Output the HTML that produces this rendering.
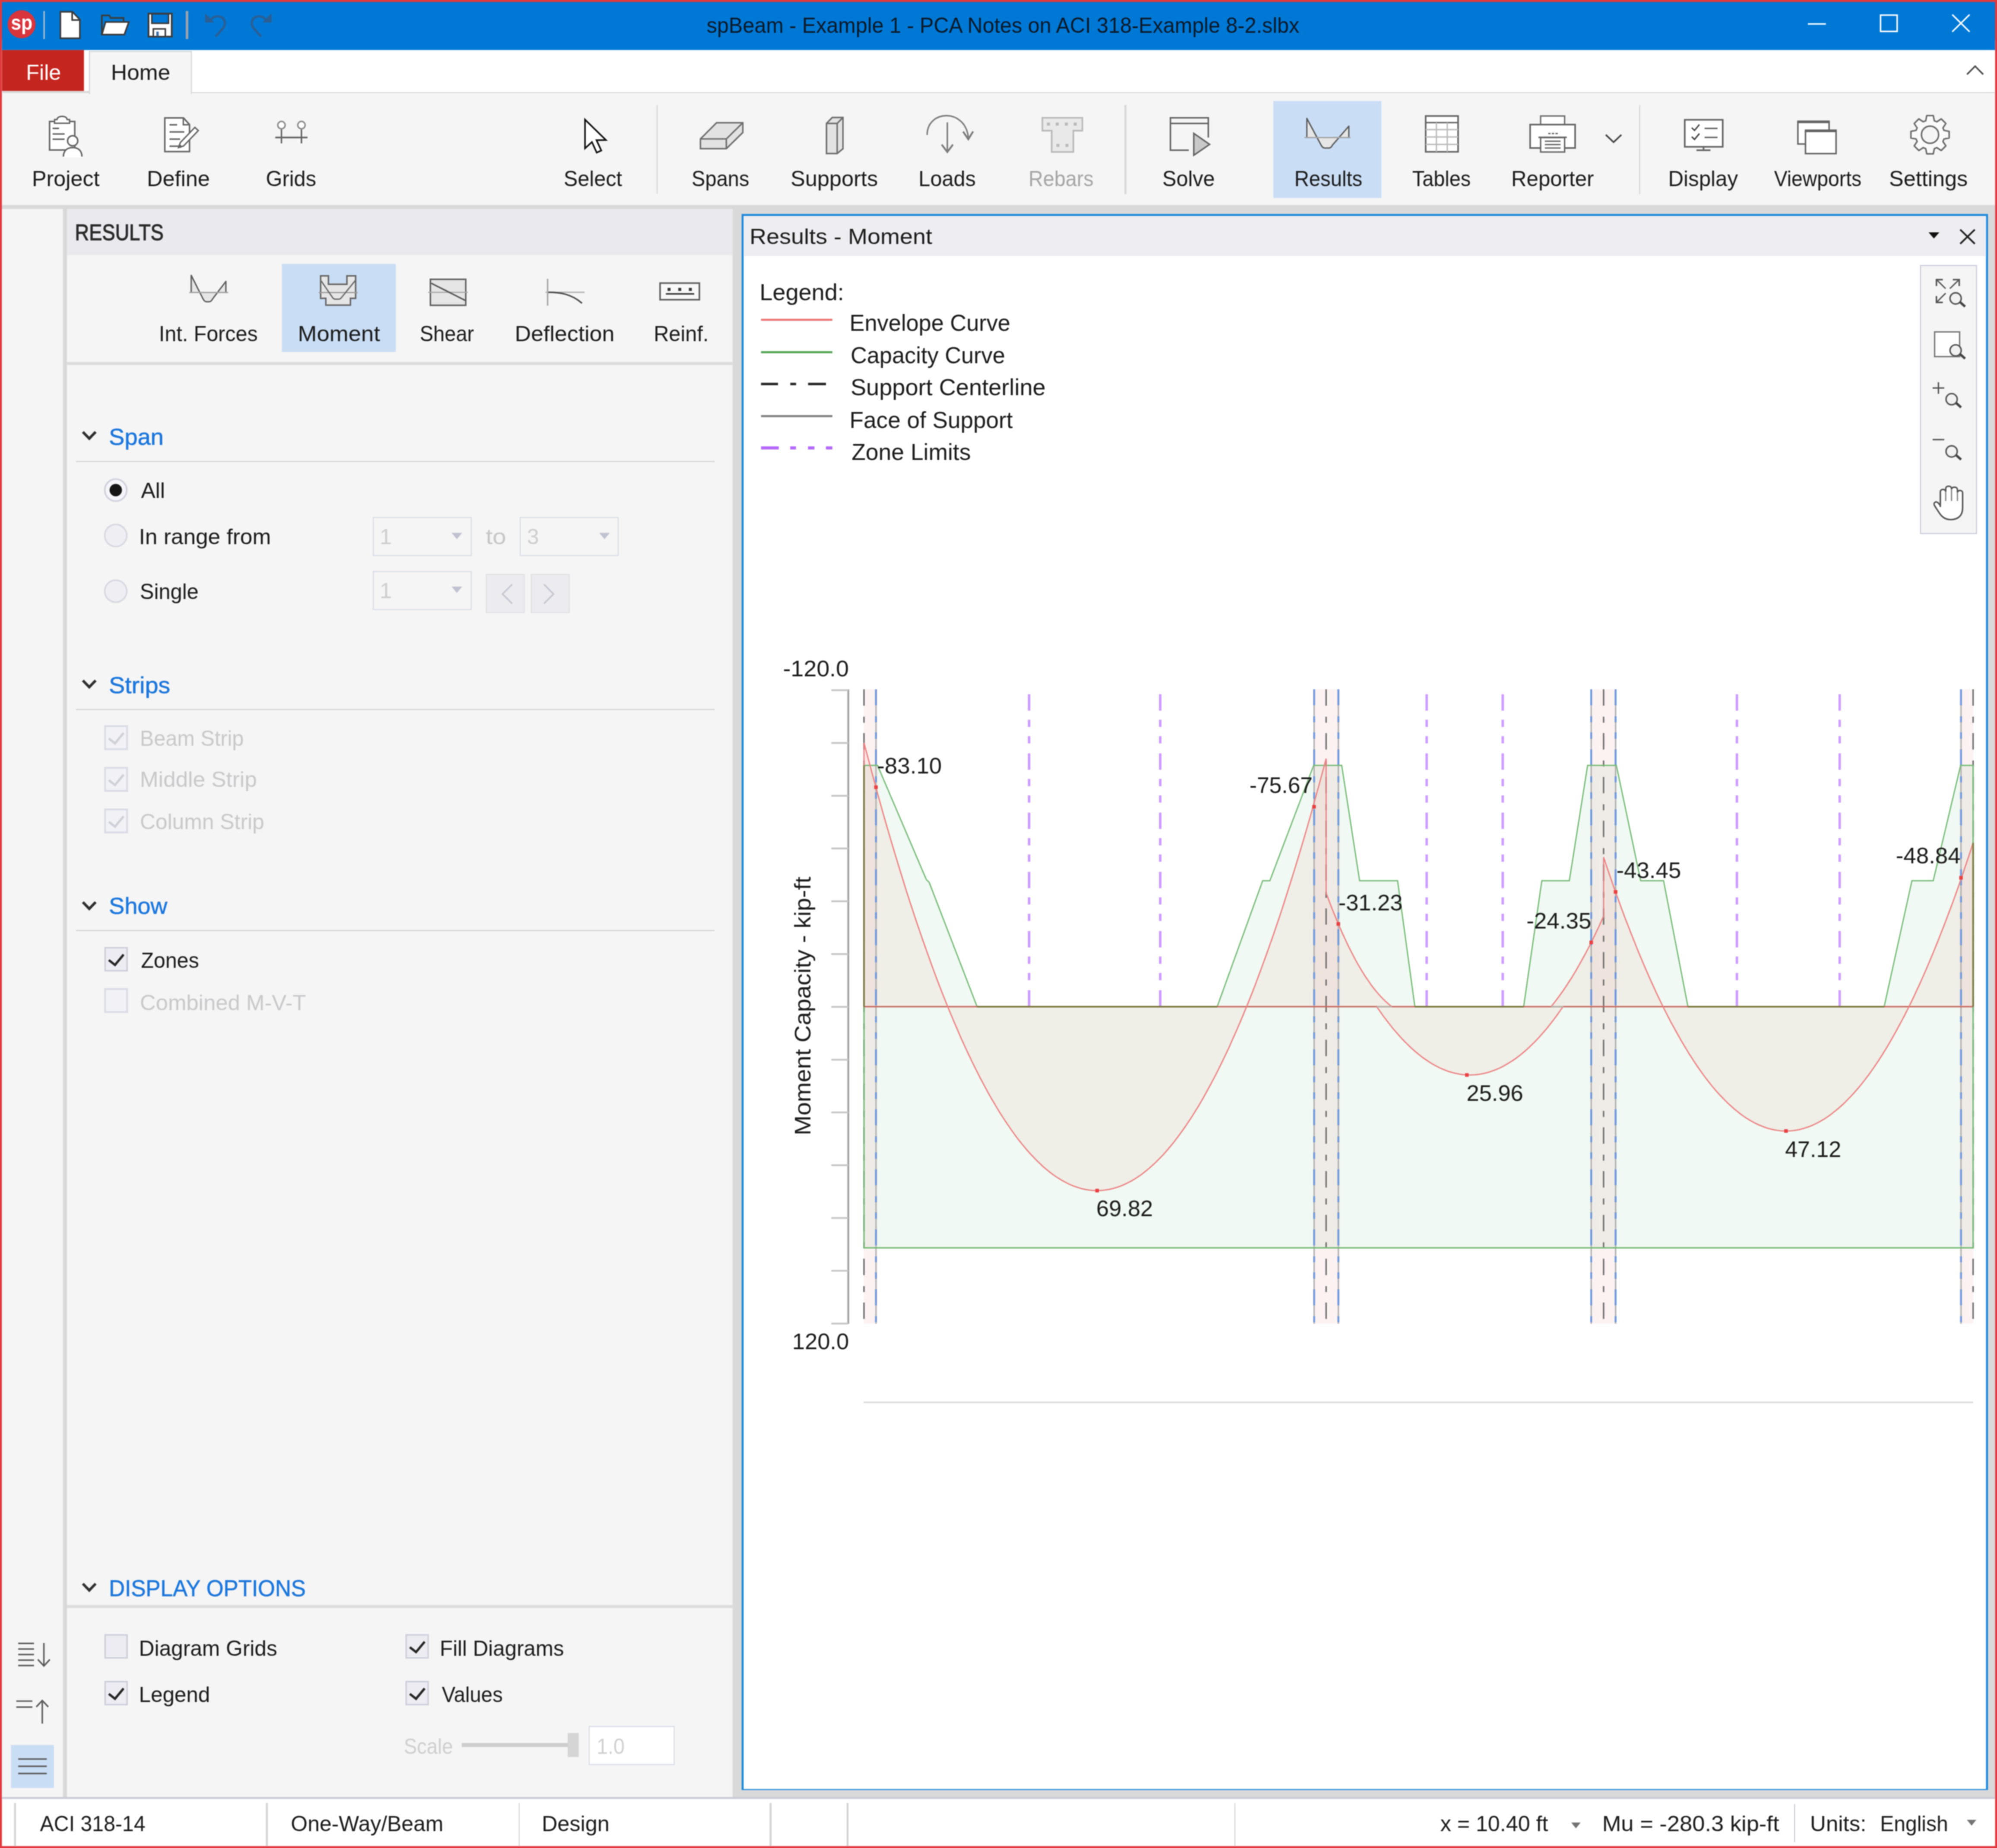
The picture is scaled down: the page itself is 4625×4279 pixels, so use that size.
<!DOCTYPE html>
<html><head><meta charset="utf-8"><title>spBeam - Results - Moment</title>
<style>
html,body{margin:0;padding:0;background:#e03a3f;overflow:hidden;}
body{width:4625px;height:4279px;position:relative;font-family:"Liberation Sans",sans-serif;}
#app{position:absolute;left:0;top:0;width:1998px;height:1848px;transform-origin:0 0;transform:scale(2.31481,2.31548);overflow:hidden;filter:blur(0.4px);}
.r{position:absolute;display:block;}
.t{position:absolute;display:block;white-space:nowrap;line-height:0;height:0;transform-origin:0 0;}
svg text{font-family:"Liberation Sans",sans-serif;}
</style></head><body><div id="app">
<div class="r" style="left:0.00px;top:0.00px;width:1998.00px;height:1848.00px;background:#e03a3f;"></div>
<div class="r" style="left:1.70px;top:40.00px;width:1994.50px;height:1806.20px;background:#f5f5f5;"></div>
<div class="r" style="left:1.70px;top:1.60px;width:1994.50px;height:49.00px;background:#0078d6;"></div>
<div class="r" style="left:1.70px;top:50.10px;width:1994.50px;height:43.40px;background:#ffffff;"></div>
<div class="r" style="left:1.70px;top:50.10px;width:82.70px;height:41.30px;background:#c4261f;"></div>
<div class="r" style="left:1.70px;top:92.00px;width:1994.50px;height:113.10px;background:#f5f5f5;"></div>
<div class="r" style="left:191.50px;top:91.60px;width:1804.70px;height:1.40px;background:#d9d9d9;"></div>
<div class="r" style="left:1.70px;top:91.40px;width:88.30px;height:1.40px;background:#d9d9d9;"></div>
<div class="r" style="left:89.40px;top:50.60px;width:103.00px;height:43.40px;background:#f5f5f5;border:1.10px solid #d6d6d6;box-sizing:border-box;border-bottom:none;"></div>
<div class="r" style="left:1.70px;top:205.10px;width:1994.50px;height:1594.90px;background:#d9d9d9;"></div>
<div class="r" style="left:1.70px;top:208.60px;width:61.50px;height:1589.40px;background:#f5f5f5;"></div>
<div class="r" style="left:66.50px;top:208.60px;width:666.20px;height:1589.40px;background:#f5f5f5;"></div>
<div class="r" style="left:66.50px;top:208.60px;width:666.20px;height:46.90px;background:#e9e9ee;"></div>
<div class="r" style="left:66.50px;top:361.80px;width:666.20px;height:3.60px;background:#dcdcdc;"></div>
<div class="r" style="left:282.40px;top:264.20px;width:113.40px;height:88.20px;background:#c9ddf5;"></div>
<div class="r" style="left:1274.10px;top:100.60px;width:108.20px;height:97.10px;background:#c9ddf5;"></div>
<div class="r" style="left:657.25px;top:104.50px;width:1.10px;height:89.50px;background:#d6d6d6;"></div>
<div class="r" style="left:1125.45px;top:104.50px;width:1.10px;height:89.50px;background:#d6d6d6;"></div>
<div class="r" style="left:1639.95px;top:104.50px;width:1.10px;height:89.50px;background:#d6d6d6;"></div>
<div class="r" style="left:75.70px;top:460.90px;width:639.00px;height:1.20px;background:#d2d2d2;"></div>
<div class="r" style="left:75.70px;top:709.20px;width:639.00px;height:1.20px;background:#d2d2d2;"></div>
<div class="r" style="left:75.70px;top:930.20px;width:639.00px;height:1.20px;background:#d2d2d2;"></div>
<div class="r" style="left:66.50px;top:1605.00px;width:666.20px;height:3.30px;background:#dcdcdc;"></div>
<div class="r" style="left:10.90px;top:1745.40px;width:43.00px;height:42.90px;background:#c9ddf5;"></div>
<div class="r" style="left:1.70px;top:1797.40px;width:1994.50px;height:2.00px;background:#cacad8;"></div>
<div class="r" style="left:1.70px;top:1799.20px;width:1994.50px;height:47.00px;background:#ffffff;"></div>
<div class="r" style="left:14.35px;top:1803.20px;width:1.50px;height:42.80px;background:#d4d4d4;"></div>
<div class="r" style="left:266.15px;top:1803.20px;width:1.50px;height:42.80px;background:#d4d4d4;"></div>
<div class="r" style="left:518.65px;top:1803.20px;width:1.50px;height:42.80px;background:#d4d4d4;"></div>
<div class="r" style="left:770.25px;top:1803.20px;width:1.50px;height:42.80px;background:#d4d4d4;"></div>
<div class="r" style="left:847.45px;top:1803.20px;width:1.50px;height:42.80px;background:#d4d4d4;"></div>
<div class="r" style="left:1234.75px;top:1803.20px;width:1.50px;height:42.80px;background:#d4d4d4;"></div>
<div class="r" style="left:1794.65px;top:1803.60px;width:1.50px;height:38.40px;background:#c8c8d4;"></div>
<div class="r" style="left:741.80px;top:214.30px;width:1247.20px;height:1576.00px;background:#1f87d8;"></div>
<div class="r" style="left:743.50px;top:216.00px;width:1243.80px;height:1572.60px;background:#ffffff;"></div>
<div class="r" style="left:743.50px;top:216.00px;width:1243.80px;height:39.50px;background:#eeeef2;"></div>
<div class="r" style="left:1920.60px;top:264.80px;width:57.40px;height:269.10px;background:#f5f5f5;border:1.30px solid #c9c9dc;box-sizing:border-box;"></div>
<div class="r" style="left:372.60px;top:516.80px;width:99.10px;height:39.40px;background:#f5f5f5;border:1.80px solid #d8dbe8;box-sizing:border-box;"></div>
<div class="r" style="left:520.20px;top:516.80px;width:99.10px;height:39.40px;background:#f5f5f5;border:1.80px solid #d8dbe8;box-sizing:border-box;"></div>
<div class="r" style="left:372.60px;top:570.50px;width:99.10px;height:39.40px;background:#f5f5f5;border:1.80px solid #d8dbe8;box-sizing:border-box;"></div>
<div class="r" style="left:486.10px;top:574.10px;width:39.20px;height:39.20px;background:#ececf0;border:1.70px solid #e0e0e2;box-sizing:border-box;"></div>
<div class="r" style="left:531.10px;top:574.10px;width:39.30px;height:39.20px;background:#ececf0;border:1.70px solid #e0e0e2;box-sizing:border-box;"></div>
<div class="r" style="left:588.70px;top:1725.90px;width:86.10px;height:39.10px;background:#ffffff;border:1.90px solid #d7d9e6;box-sizing:border-box;"></div>
<div class="r" style="left:461.60px;top:1743.30px;width:115.40px;height:3.70px;background:#cdcdcd;"></div>
<div class="r" style="left:567.90px;top:1733.00px;width:11.20px;height:24.40px;background:#d5d5d5;"></div>
<svg class="r" style="left:0;top:0" width="1998" height="1848" viewBox="0 0 1998 1848">
<polygon points="864.4,765.4 878.0,765.4 926.9,879.8 929.6,882.2 977.6,1006.7 1217.8,1006.7 1263.3,880.7 1270.5,880.7 1314.3,765.4 1342.4,765.4 1360.3,880.7 1398.3,880.7 1415.6,1006.7 1524.4,1006.7 1542.6,880.7 1570.1,880.7 1588.4,765.4 1617.2,765.4 1641.5,880.7 1664.4,880.7 1688.8,1006.7 1885.1,1006.7 1912.9,880.7 1934.2,880.7 1961.6,765.4 1974.1,765.4 1974.1,1247.8 864.4,1247.8" fill="#ecf8f0" fill-opacity="0.8" stroke="none"/>
<polygon points="864.4,1006.7 864.4,742.7 868.3,757.4 872.2,772.0 876.1,786.3 879.9,800.3 883.8,814.2 887.7,827.7 891.6,841.0 895.5,854.1 899.4,866.9 903.3,879.4 907.1,891.8 911.0,903.8 914.9,915.6 918.8,927.2 922.7,938.5 926.6,949.6 930.5,960.4 934.3,971.0 938.2,981.3 942.1,991.4 946.0,1001.2 949.9,1010.8 953.8,1020.1 957.7,1029.2 961.5,1038.0 965.4,1046.6 969.3,1054.9 973.2,1063.0 977.1,1070.9 981.0,1078.5 984.9,1085.8 988.7,1092.9 992.6,1099.7 996.5,1106.3 1000.4,1112.7 1004.3,1118.8 1008.2,1124.6 1012.1,1130.2 1015.9,1135.6 1019.8,1140.7 1023.7,1145.5 1027.6,1150.2 1031.5,1154.5 1035.4,1158.6 1039.3,1162.5 1043.1,1166.1 1047.0,1169.5 1050.9,1172.6 1054.8,1175.5 1058.7,1178.1 1062.6,1180.4 1066.5,1182.6 1070.3,1184.4 1074.2,1186.1 1078.1,1187.4 1082.0,1188.6 1085.9,1189.5 1089.8,1190.1 1093.7,1190.5 1097.5,1190.6 1101.4,1190.5 1105.3,1190.1 1109.2,1189.5 1113.1,1188.7 1117.0,1187.5 1120.9,1186.2 1124.7,1184.6 1128.6,1182.7 1132.5,1180.6 1136.4,1178.3 1140.3,1175.7 1144.2,1172.8 1148.1,1169.7 1151.9,1166.4 1155.8,1162.8 1159.7,1158.9 1163.6,1154.9 1167.5,1150.5 1171.4,1145.9 1175.3,1141.1 1179.1,1136.0 1183.0,1130.7 1186.9,1125.1 1190.8,1119.3 1194.7,1113.2 1198.6,1106.9 1202.5,1100.3 1206.3,1093.5 1210.2,1086.4 1214.1,1079.1 1218.0,1071.5 1221.9,1063.7 1225.8,1055.6 1229.7,1047.3 1233.5,1038.7 1237.4,1029.9 1241.3,1020.9 1245.2,1011.5 1249.1,1002.0 1253.0,992.2 1256.9,982.1 1260.7,971.8 1264.6,961.3 1268.5,950.5 1272.4,939.4 1276.3,928.1 1280.2,916.6 1284.1,904.8 1287.9,892.7 1291.8,880.4 1295.7,867.9 1299.6,855.1 1303.5,842.1 1307.4,828.8 1311.3,815.3 1315.1,801.5 1319.0,787.4 1322.9,773.2 1326.8,758.6 1326.8,1006.7" fill="#ee9a8a" fill-opacity="0.115"/>
<polygon points="1326.8,1006.7 1326.8,893.0 1329.1,899.1 1331.3,905.0 1333.6,910.8 1335.9,916.4 1338.2,921.9 1340.4,927.2 1342.7,932.4 1345.0,937.4 1347.3,942.3 1349.5,947.0 1351.8,951.5 1354.1,955.9 1356.3,960.1 1358.6,964.2 1360.9,968.1 1363.2,971.9 1365.4,975.5 1367.7,978.9 1370.0,982.2 1372.2,985.4 1374.5,988.4 1376.8,991.2 1379.1,993.9 1381.3,996.4 1383.6,998.8 1385.9,1001.0 1388.2,1003.1 1390.4,1005.0 1392.7,1006.7" fill="#ee9a8a" fill-opacity="0.115"/>
<polygon points="1377.2,1006.4 1380.4,1010.9 1383.5,1015.4 1386.7,1019.6 1389.9,1023.7 1393.0,1027.7 1396.2,1031.5 1399.4,1035.1 1402.5,1038.6 1405.7,1041.9 1408.9,1045.0 1412.0,1048.0 1415.2,1050.9 1418.4,1053.5 1421.5,1056.1 1424.7,1058.4 1427.9,1060.6 1431.1,1062.7 1434.2,1064.6 1437.4,1066.3 1440.6,1067.9 1443.7,1069.3 1446.9,1070.6 1450.1,1071.7 1453.2,1072.6 1456.4,1073.4 1459.6,1074.0 1462.7,1074.5 1465.9,1074.8 1469.1,1075.0 1472.2,1075.0 1475.4,1074.8 1478.6,1074.5 1481.7,1074.0 1484.9,1073.4 1488.1,1072.6 1491.2,1071.6 1494.4,1070.5 1497.6,1069.3 1500.7,1067.9 1503.9,1066.3 1507.1,1064.5 1510.2,1062.6 1513.4,1060.6 1516.6,1058.4 1519.8,1056.0 1522.9,1053.5 1526.1,1050.8 1529.3,1047.9 1532.4,1044.9 1535.6,1041.8 1538.8,1038.5 1541.9,1035.0 1545.1,1031.3 1548.3,1027.6 1551.4,1023.6 1554.6,1019.5 1557.8,1015.2 1560.9,1010.8 1564.1,1006.2" fill="#ee9a8a" fill-opacity="0.115"/>
<polygon points="1551.8,1006.7 1553.6,1004.5 1555.4,1002.2 1557.2,999.8 1559.1,997.4 1560.9,994.9 1562.7,992.4 1564.5,989.8 1566.3,987.1 1568.1,984.4 1569.9,981.6 1571.8,978.7 1573.6,975.8 1575.4,972.8 1577.2,969.8 1579.0,966.6 1580.8,963.4 1582.6,960.2 1584.4,956.9 1586.3,953.5 1588.1,950.1 1589.9,946.6 1591.7,943.0 1593.5,939.4 1595.3,935.7 1597.1,931.9 1599.0,928.1 1600.8,924.2 1602.6,920.2 1604.4,916.2 1604.4,1006.7" fill="#ee9a8a" fill-opacity="0.115"/>
<polygon points="1604.4,1006.7 1604.4,857.2 1607.5,866.5 1610.6,875.5 1613.7,884.5 1616.8,893.2 1619.9,901.8 1623.0,910.3 1626.1,918.6 1629.3,926.7 1632.4,934.7 1635.5,942.5 1638.6,950.2 1641.7,957.7 1644.8,965.0 1647.9,972.2 1651.0,979.2 1654.1,986.0 1657.2,992.8 1660.3,999.3 1663.4,1005.7 1666.5,1011.9 1669.6,1018.0 1672.7,1023.9 1675.9,1029.6 1679.0,1035.2 1682.1,1040.7 1685.2,1045.9 1688.3,1051.1 1691.4,1056.0 1694.5,1060.8 1697.6,1065.5 1700.7,1069.9 1703.8,1074.3 1706.9,1078.4 1710.0,1082.4 1713.1,1086.3 1716.2,1090.0 1719.3,1093.5 1722.5,1096.9 1725.6,1100.1 1728.7,1103.1 1731.8,1106.0 1734.9,1108.8 1738.0,1111.3 1741.1,1113.8 1744.2,1116.0 1747.3,1118.1 1750.4,1120.1 1753.5,1121.8 1756.6,1123.5 1759.7,1124.9 1762.8,1126.2 1765.9,1127.4 1769.1,1128.4 1772.2,1129.2 1775.3,1129.9 1778.4,1130.4 1781.5,1130.8 1784.6,1131.0 1787.7,1131.0 1790.8,1130.9 1793.9,1130.6 1797.0,1130.2 1800.1,1129.6 1803.2,1128.8 1806.3,1127.9 1809.4,1126.8 1812.6,1125.6 1815.7,1124.2 1818.8,1122.7 1821.9,1120.9 1825.0,1119.1 1828.1,1117.1 1831.2,1114.9 1834.3,1112.5 1837.4,1110.0 1840.5,1107.4 1843.6,1104.6 1846.7,1101.6 1849.8,1098.4 1852.9,1095.2 1856.0,1091.7 1859.2,1088.1 1862.3,1084.3 1865.4,1080.4 1868.5,1076.3 1871.6,1072.1 1874.7,1067.7 1877.8,1063.1 1880.9,1058.4 1884.0,1053.5 1887.1,1048.5 1890.2,1043.3 1893.3,1037.9 1896.4,1032.4 1899.5,1026.7 1902.6,1020.9 1905.8,1014.9 1908.9,1008.7 1912.0,1002.4 1915.1,996.0 1918.2,989.3 1921.3,982.6 1924.4,975.6 1927.5,968.5 1930.6,961.2 1933.7,953.8 1936.8,946.2 1939.9,938.5 1943.0,930.6 1946.1,922.6 1949.2,914.4 1952.4,906.0 1955.5,897.5 1958.6,888.8 1961.7,879.9 1964.8,870.9 1967.9,861.7 1971.0,852.4 1974.1,842.9 1974.1,1006.7" fill="#ee9a8a" fill-opacity="0.115"/>
<rect x="864.0" y="689.3" width="14.0" height="634.5" fill="#e8a0a0" fill-opacity="0.14"/>
<rect x="1313.8" y="689.3" width="26.8" height="634.5" fill="#e8a0a0" fill-opacity="0.14"/>
<rect x="1591.0" y="689.3" width="26.6" height="634.5" fill="#e8a0a0" fill-opacity="0.14"/>
<rect x="1960.6" y="689.3" width="14.0" height="634.5" fill="#e8a0a0" fill-opacity="0.14"/>
<line x1="848.7" y1="689.3" x2="848.7" y2="1323.8" stroke="#a4a4a4" stroke-width="1.9"/>
<line x1="831.7" y1="690.2" x2="848.7" y2="690.2" stroke="#c6c6c6" stroke-width="1.8"/>
<line x1="831.7" y1="743.0" x2="848.7" y2="743.0" stroke="#c6c6c6" stroke-width="1.8"/>
<line x1="831.7" y1="795.8" x2="848.7" y2="795.8" stroke="#c6c6c6" stroke-width="1.8"/>
<line x1="831.7" y1="848.5" x2="848.7" y2="848.5" stroke="#c6c6c6" stroke-width="1.8"/>
<line x1="831.7" y1="901.3" x2="848.7" y2="901.3" stroke="#c6c6c6" stroke-width="1.8"/>
<line x1="831.7" y1="954.1" x2="848.7" y2="954.1" stroke="#c6c6c6" stroke-width="1.8"/>
<line x1="831.7" y1="1006.9" x2="848.7" y2="1006.9" stroke="#c6c6c6" stroke-width="1.8"/>
<line x1="831.7" y1="1059.7" x2="848.7" y2="1059.7" stroke="#c6c6c6" stroke-width="1.8"/>
<line x1="831.7" y1="1112.4" x2="848.7" y2="1112.4" stroke="#c6c6c6" stroke-width="1.8"/>
<line x1="831.7" y1="1165.2" x2="848.7" y2="1165.2" stroke="#c6c6c6" stroke-width="1.8"/>
<line x1="831.7" y1="1218.0" x2="848.7" y2="1218.0" stroke="#c6c6c6" stroke-width="1.8"/>
<line x1="831.7" y1="1270.8" x2="848.7" y2="1270.8" stroke="#c6c6c6" stroke-width="1.8"/>
<line x1="831.7" y1="1323.6" x2="848.7" y2="1323.6" stroke="#c6c6c6" stroke-width="1.8"/>
<line x1="864.0" y1="1402.4" x2="1974.1" y2="1402.4" stroke="#d9d9d9" stroke-width="1.4"/>
<line x1="1029.6" y1="694.2" x2="1029.6" y2="1006.7" stroke="#cc9cff" stroke-width="2.5" stroke-dasharray="16.4 9.1 7.3 9.1 7.3 10"/>
<line x1="1160.8" y1="694.2" x2="1160.8" y2="1006.7" stroke="#cc9cff" stroke-width="2.5" stroke-dasharray="16.4 9.1 7.3 9.1 7.3 10"/>
<line x1="1427.4" y1="694.2" x2="1427.4" y2="1006.7" stroke="#cc9cff" stroke-width="2.5" stroke-dasharray="16.4 9.1 7.3 9.1 7.3 10"/>
<line x1="1503.5" y1="694.2" x2="1503.5" y2="1006.7" stroke="#cc9cff" stroke-width="2.5" stroke-dasharray="16.4 9.1 7.3 9.1 7.3 10"/>
<line x1="1737.8" y1="694.2" x2="1737.8" y2="1006.7" stroke="#cc9cff" stroke-width="2.5" stroke-dasharray="16.4 9.1 7.3 9.1 7.3 10"/>
<line x1="1840.6" y1="694.2" x2="1840.6" y2="1006.7" stroke="#cc9cff" stroke-width="2.5" stroke-dasharray="16.4 9.1 7.3 9.1 7.3 10"/>
<line x1="876.4" y1="689.3" x2="876.4" y2="1323.8" stroke="#b2b2b2" stroke-width="1.4"/>
<line x1="876.4" y1="689.3" x2="876.4" y2="1323.8" stroke="#6f98dc" stroke-width="1.9" stroke-dasharray="16 11 6 10 6.5 10.5"/>
<line x1="1314.8" y1="689.3" x2="1314.8" y2="1323.8" stroke="#b2b2b2" stroke-width="1.4"/>
<line x1="1314.8" y1="689.3" x2="1314.8" y2="1323.8" stroke="#6f98dc" stroke-width="1.9" stroke-dasharray="16 11 6 10 6.5 10.5"/>
<line x1="1339.0" y1="689.3" x2="1339.0" y2="1323.8" stroke="#b2b2b2" stroke-width="1.4"/>
<line x1="1339.0" y1="689.3" x2="1339.0" y2="1323.8" stroke="#6f98dc" stroke-width="1.9" stroke-dasharray="16 11 6 10 6.5 10.5"/>
<line x1="1592.0" y1="689.3" x2="1592.0" y2="1323.8" stroke="#b2b2b2" stroke-width="1.4"/>
<line x1="1592.0" y1="689.3" x2="1592.0" y2="1323.8" stroke="#6f98dc" stroke-width="1.9" stroke-dasharray="16 11 6 10 6.5 10.5"/>
<line x1="1616.4" y1="689.3" x2="1616.4" y2="1323.8" stroke="#b2b2b2" stroke-width="1.4"/>
<line x1="1616.4" y1="689.3" x2="1616.4" y2="1323.8" stroke="#6f98dc" stroke-width="1.9" stroke-dasharray="16 11 6 10 6.5 10.5"/>
<line x1="1962.0" y1="689.3" x2="1962.0" y2="1323.8" stroke="#b2b2b2" stroke-width="1.4"/>
<line x1="1962.0" y1="689.3" x2="1962.0" y2="1323.8" stroke="#6f98dc" stroke-width="1.9" stroke-dasharray="16 11 6 10 6.5 10.5"/>
<line x1="864.4" y1="689.3" x2="864.4" y2="1323.8" stroke="#707070" stroke-width="1.5" stroke-dasharray="16.4 11 6 10.4"/>
<line x1="1326.8" y1="689.3" x2="1326.8" y2="1323.8" stroke="#707070" stroke-width="1.5" stroke-dasharray="16.4 11 6 10.4"/>
<line x1="1604.4" y1="689.3" x2="1604.4" y2="1323.8" stroke="#707070" stroke-width="1.5" stroke-dasharray="16.4 11 6 10.4"/>
<line x1="1974.1" y1="689.3" x2="1974.1" y2="1323.8" stroke="#707070" stroke-width="1.5" stroke-dasharray="16.4 11 6 10.4"/>
<polyline points="864.4,765.4 878.0,765.4 926.9,879.8 929.6,882.2 977.6,1006.7 1217.8,1006.7 1263.3,880.7 1270.5,880.7 1314.3,765.4 1342.4,765.4 1360.3,880.7 1398.3,880.7 1415.6,1006.7 1524.4,1006.7 1542.6,880.7 1570.1,880.7 1588.4,765.4 1617.2,765.4 1641.5,880.7 1664.4,880.7 1688.8,1006.7 1885.1,1006.7 1912.9,880.7 1934.2,880.7 1961.6,765.4 1974.1,765.4" fill="none" stroke="#78bb78" stroke-width="1.25"/>
<polyline points="864.4,765.4 864.4,1247.8 1974.1,1247.8 1974.1,765.4" fill="none" stroke="#78bb78" stroke-width="1.4"/>
<line x1="864.4" y1="1006.7" x2="1974.1" y2="1006.7" stroke="#c86a60" stroke-width="1.4"/>
<polyline points="864.4,1006.7 864.4,742.7 868.3,757.4 872.2,772.0 876.1,786.3 879.9,800.3 883.8,814.2 887.7,827.7 891.6,841.0 895.5,854.1 899.4,866.9 903.3,879.4 907.1,891.8 911.0,903.8 914.9,915.6 918.8,927.2 922.7,938.5 926.6,949.6 930.5,960.4 934.3,971.0 938.2,981.3 942.1,991.4 946.0,1001.2 949.9,1010.8 953.8,1020.1 957.7,1029.2 961.5,1038.0 965.4,1046.6 969.3,1054.9 973.2,1063.0 977.1,1070.9 981.0,1078.5 984.9,1085.8 988.7,1092.9 992.6,1099.7 996.5,1106.3 1000.4,1112.7 1004.3,1118.8 1008.2,1124.6 1012.1,1130.2 1015.9,1135.6 1019.8,1140.7 1023.7,1145.5 1027.6,1150.2 1031.5,1154.5 1035.4,1158.6 1039.3,1162.5 1043.1,1166.1 1047.0,1169.5 1050.9,1172.6 1054.8,1175.5 1058.7,1178.1 1062.6,1180.4 1066.5,1182.6 1070.3,1184.4 1074.2,1186.1 1078.1,1187.4 1082.0,1188.6 1085.9,1189.5 1089.8,1190.1 1093.7,1190.5 1097.5,1190.6 1101.4,1190.5 1105.3,1190.1 1109.2,1189.5 1113.1,1188.7 1117.0,1187.5 1120.9,1186.2 1124.7,1184.6 1128.6,1182.7 1132.5,1180.6 1136.4,1178.3 1140.3,1175.7 1144.2,1172.8 1148.1,1169.7 1151.9,1166.4 1155.8,1162.8 1159.7,1158.9 1163.6,1154.9 1167.5,1150.5 1171.4,1145.9 1175.3,1141.1 1179.1,1136.0 1183.0,1130.7 1186.9,1125.1 1190.8,1119.3 1194.7,1113.2 1198.6,1106.9 1202.5,1100.3 1206.3,1093.5 1210.2,1086.4 1214.1,1079.1 1218.0,1071.5 1221.9,1063.7 1225.8,1055.6 1229.7,1047.3 1233.5,1038.7 1237.4,1029.9 1241.3,1020.9 1245.2,1011.5 1249.1,1002.0 1253.0,992.2 1256.9,982.1 1260.7,971.8 1264.6,961.3 1268.5,950.5 1272.4,939.4 1276.3,928.1 1280.2,916.6 1284.1,904.8 1287.9,892.7 1291.8,880.4 1295.7,867.9 1299.6,855.1 1303.5,842.1 1307.4,828.8 1311.3,815.3 1315.1,801.5 1319.0,787.4 1322.9,773.2 1326.8,758.6 1326.8,893.0 1329.1,899.1 1331.3,905.0 1333.6,910.8 1335.9,916.4 1338.2,921.9 1340.4,927.2 1342.7,932.4 1345.0,937.4 1347.3,942.3 1349.5,947.0 1351.8,951.5 1354.1,955.9 1356.3,960.1 1358.6,964.2 1360.9,968.1 1363.2,971.9 1365.4,975.5 1367.7,978.9 1370.0,982.2 1372.2,985.4 1374.5,988.4 1376.8,991.2 1379.1,993.9 1381.3,996.4 1383.6,998.8 1385.9,1001.0 1388.2,1003.1 1390.4,1005.0 1392.7,1006.7" fill="none" stroke="#ec8282" stroke-width="1.25"/>
<polyline points="1377.2,1006.4 1380.4,1010.9 1383.5,1015.4 1386.7,1019.6 1389.9,1023.7 1393.0,1027.7 1396.2,1031.5 1399.4,1035.1 1402.5,1038.6 1405.7,1041.9 1408.9,1045.0 1412.0,1048.0 1415.2,1050.9 1418.4,1053.5 1421.5,1056.1 1424.7,1058.4 1427.9,1060.6 1431.1,1062.7 1434.2,1064.6 1437.4,1066.3 1440.6,1067.9 1443.7,1069.3 1446.9,1070.6 1450.1,1071.7 1453.2,1072.6 1456.4,1073.4 1459.6,1074.0 1462.7,1074.5 1465.9,1074.8 1469.1,1075.0 1472.2,1075.0 1475.4,1074.8 1478.6,1074.5 1481.7,1074.0 1484.9,1073.4 1488.1,1072.6 1491.2,1071.6 1494.4,1070.5 1497.6,1069.3 1500.7,1067.9 1503.9,1066.3 1507.1,1064.5 1510.2,1062.6 1513.4,1060.6 1516.6,1058.4 1519.8,1056.0 1522.9,1053.5 1526.1,1050.8 1529.3,1047.9 1532.4,1044.9 1535.6,1041.8 1538.8,1038.5 1541.9,1035.0 1545.1,1031.3 1548.3,1027.6 1551.4,1023.6 1554.6,1019.5 1557.8,1015.2 1560.9,1010.8 1564.1,1006.2" fill="none" stroke="#ec8282" stroke-width="1.25"/>
<polyline points="1551.8,1006.7 1553.6,1004.5 1555.4,1002.2 1557.2,999.8 1559.1,997.4 1560.9,994.9 1562.7,992.4 1564.5,989.8 1566.3,987.1 1568.1,984.4 1569.9,981.6 1571.8,978.7 1573.6,975.8 1575.4,972.8 1577.2,969.8 1579.0,966.6 1580.8,963.4 1582.6,960.2 1584.4,956.9 1586.3,953.5 1588.1,950.1 1589.9,946.6 1591.7,943.0 1593.5,939.4 1595.3,935.7 1597.1,931.9 1599.0,928.1 1600.8,924.2 1602.6,920.2 1604.4,916.2 1604.4,857.2 1604.4,857.2 1607.5,866.5 1610.6,875.5 1613.7,884.5 1616.8,893.2 1619.9,901.8 1623.0,910.3 1626.1,918.6 1629.3,926.7 1632.4,934.7 1635.5,942.5 1638.6,950.2 1641.7,957.7 1644.8,965.0 1647.9,972.2 1651.0,979.2 1654.1,986.0 1657.2,992.8 1660.3,999.3 1663.4,1005.7 1666.5,1011.9 1669.6,1018.0 1672.7,1023.9 1675.9,1029.6 1679.0,1035.2 1682.1,1040.7 1685.2,1045.9 1688.3,1051.1 1691.4,1056.0 1694.5,1060.8 1697.6,1065.5 1700.7,1069.9 1703.8,1074.3 1706.9,1078.4 1710.0,1082.4 1713.1,1086.3 1716.2,1090.0 1719.3,1093.5 1722.5,1096.9 1725.6,1100.1 1728.7,1103.1 1731.8,1106.0 1734.9,1108.8 1738.0,1111.3 1741.1,1113.8 1744.2,1116.0 1747.3,1118.1 1750.4,1120.1 1753.5,1121.8 1756.6,1123.5 1759.7,1124.9 1762.8,1126.2 1765.9,1127.4 1769.1,1128.4 1772.2,1129.2 1775.3,1129.9 1778.4,1130.4 1781.5,1130.8 1784.6,1131.0 1787.7,1131.0 1790.8,1130.9 1793.9,1130.6 1797.0,1130.2 1800.1,1129.6 1803.2,1128.8 1806.3,1127.9 1809.4,1126.8 1812.6,1125.6 1815.7,1124.2 1818.8,1122.7 1821.9,1120.9 1825.0,1119.1 1828.1,1117.1 1831.2,1114.9 1834.3,1112.5 1837.4,1110.0 1840.5,1107.4 1843.6,1104.6 1846.7,1101.6 1849.8,1098.4 1852.9,1095.2 1856.0,1091.7 1859.2,1088.1 1862.3,1084.3 1865.4,1080.4 1868.5,1076.3 1871.6,1072.1 1874.7,1067.7 1877.8,1063.1 1880.9,1058.4 1884.0,1053.5 1887.1,1048.5 1890.2,1043.3 1893.3,1037.9 1896.4,1032.4 1899.5,1026.7 1902.6,1020.9 1905.8,1014.9 1908.9,1008.7 1912.0,1002.4 1915.1,996.0 1918.2,989.3 1921.3,982.6 1924.4,975.6 1927.5,968.5 1930.6,961.2 1933.7,953.8 1936.8,946.2 1939.9,938.5 1943.0,930.6 1946.1,922.6 1949.2,914.4 1952.4,906.0 1955.5,897.5 1958.6,888.8 1961.7,879.9 1964.8,870.9 1967.9,861.7 1971.0,852.4 1974.1,842.9 1974.1,1006.7" fill="none" stroke="#ec8282" stroke-width="1.25"/>
<line x1="1377.6" y1="1006.7" x2="1392.4" y2="1006.7" stroke="#b9b8ae" stroke-width="1.6"/>
<line x1="1552.1" y1="1006.7" x2="1563.8" y2="1006.7" stroke="#b9b8ae" stroke-width="1.6"/>
<line x1="977.6" y1="1006.7" x2="1217.8" y2="1006.7" stroke="#7a7a3e" stroke-width="1.6"/>
<line x1="1415.6" y1="1006.7" x2="1524.4" y2="1006.7" stroke="#7a7a3e" stroke-width="1.6"/>
<line x1="1688.8" y1="1006.7" x2="1885.1" y2="1006.7" stroke="#7a7a3e" stroke-width="1.6"/>
<line x1="864.4" y1="765.4" x2="864.4" y2="1006.7" stroke="#7a7a3e" stroke-width="1.6"/>
<line x1="1974.1" y1="842.8" x2="1974.1" y2="1006.7" stroke="#7a7a3e" stroke-width="1.6"/>
<rect x="874.6" y="785.4" width="3.6" height="3.6" fill="#ea4040"/>
<rect x="1312.9" y="805.0" width="3.6" height="3.6" fill="#ea4040"/>
<rect x="1337.2" y="922.1" width="3.6" height="3.6" fill="#ea4040"/>
<rect x="1590.2" y="940.6" width="3.6" height="3.6" fill="#ea4040"/>
<rect x="1614.6" y="890.1" width="3.6" height="3.6" fill="#ea4040"/>
<rect x="1960.2" y="876.0" width="3.6" height="3.6" fill="#ea4040"/>
<rect x="1095.9" y="1188.8" width="3.6" height="3.6" fill="#ea4040"/>
<rect x="1465.8" y="1073.2" width="3.6" height="3.6" fill="#ea4040"/>
<rect x="1785.1" y="1129.2" width="3.6" height="3.6" fill="#ea4040"/>
<text x="783.4" y="676.4" font-size="22.4" textLength="65.9" lengthAdjust="spacingAndGlyphs" fill="#1c1c1c">-120.0</text>
<text x="792.6" y="1349.0" font-size="22.4" textLength="56.8" lengthAdjust="spacingAndGlyphs" fill="#1c1c1c">120.0</text>
<text x="877.5" y="773.4" font-size="22.4" textLength="64.8" lengthAdjust="spacingAndGlyphs" fill="#1c1c1c">-83.10</text>
<text x="1250.1" y="793.0" font-size="22.4" textLength="63.2" lengthAdjust="spacingAndGlyphs" fill="#1c1c1c">-75.67</text>
<text x="1339.1" y="910.2" font-size="22.4" textLength="64.2" lengthAdjust="spacingAndGlyphs" fill="#1c1c1c">-31.23</text>
<text x="1527.2" y="928.4" font-size="22.4" textLength="64.9" lengthAdjust="spacingAndGlyphs" fill="#1c1c1c">-24.35</text>
<text x="1617.2" y="877.8" font-size="22.4" textLength="64.7" lengthAdjust="spacingAndGlyphs" fill="#1c1c1c">-43.45</text>
<text x="1896.8" y="863.4" font-size="22.4" textLength="64.8" lengthAdjust="spacingAndGlyphs" fill="#1c1c1c">-48.84</text>
<text x="1096.9" y="1216.2" font-size="22.4" textLength="56.6" lengthAdjust="spacingAndGlyphs" fill="#1c1c1c">69.82</text>
<text x="1467.3" y="1101.0" font-size="22.4" textLength="56.7" lengthAdjust="spacingAndGlyphs" fill="#1c1c1c">25.96</text>
<text x="1786.0" y="1157.0" font-size="22.4" textLength="56.1" lengthAdjust="spacingAndGlyphs" fill="#1c1c1c">47.12</text>
<text transform="translate(811,1135.3) rotate(-90)" font-size="22.3" textLength="258.6" lengthAdjust="spacingAndGlyphs" fill="#1c1c1c">Moment Capacity - kip-ft</text>
<line x1="761.4" y1="319.8" x2="832.8" y2="319.8" stroke="#f07a7a" stroke-width="2.2"/>
<line x1="761.4" y1="352.2" x2="832.8" y2="352.2" stroke="#5aa85a" stroke-width="2.2"/>
<line x1="761.4" y1="384.0" x2="832.8" y2="384.0" stroke="#2a2a2a" stroke-width="2.4" stroke-dasharray="17 12.3 5.8 12 17.9 50"/>
<line x1="761.4" y1="416.1" x2="832.8" y2="416.1" stroke="#858585" stroke-width="2.2"/>
<line x1="761.4" y1="447.9" x2="832.8" y2="447.9" stroke="#b568ff" stroke-width="3.2" stroke-dasharray="17.8 11.4 5.8 12 6.5 11.4 6.5 50"/>
</svg>
<svg class="r" style="left:0;top:0" width="1998" height="1848" viewBox="0 0 1998 1848" fill="none">
<circle cx="21.60" cy="24.30" r="14.00" stroke="none" stroke-width="0" fill="#d8353d"/>
<text x="10.9" y="29.6" font-size="21" font-weight="bold" fill="#fff" textLength="21.6" lengthAdjust="spacingAndGlyphs">sp</text>
<line x1="44.10" y1="11.00" x2="44.10" y2="39.00" stroke="#b9c7d6" stroke-width="1.3" />
<path d="M60.4 11.8 H72.5 L79.9 19.6 V38.3 H60.4 Z" stroke="#3b3b3b" stroke-width="1.6" fill="#fff" />
<path d="M72.2 12 V20 H79.7" stroke="#3b3b3b" stroke-width="1.6" fill="none" />
<path d="M101.9 34.6 V15.4 H109.4 L110.6 18 H123.6 V21.8" stroke="#3b3b3b" stroke-width="1.6" fill="#0078d6" />
<path d="M105.6 22 H128.9 L124.4 34.6 H101.9 Z" stroke="#3b3b3b" stroke-width="1.6" fill="#fff" />
<rect x="148.60" y="13.60" width="23.20" height="23.00" stroke="#3b3b3b" stroke-width="1.7" fill="#fff" />
<rect x="151.90" y="13.80" width="16.70" height="9.50" stroke="#3b3b3b" stroke-width="1.5" fill="#0078d6" />
<rect x="153.40" y="28.90" width="12.00" height="7.70" stroke="#3b3b3b" stroke-width="1.5" fill="#fff" />
<rect x="156.40" y="31.60" width="2.40" height="4.40" stroke="none" stroke-width="0" fill="#3b6ea8" />
<line x1="187.10" y1="11.00" x2="187.10" y2="39.00" stroke="#9aa4ad" stroke-width="2.6" />
<g transform="translate(205.20,12.9)"><polygon points="0,0.3 0,9.6 9.3,9.6" fill="#2b5f93"/><path d="M6 6.6 C10 1.6 18.5 2.4 19.8 9.2 C20.6 13.6 15.5 18.2 10.4 23.6" stroke="#2b5f93" stroke-width="2.2" fill="none" /></g>
<g transform="translate(250.30,12.9) translate(21.4,0) scale(-1,1)"><polygon points="0,0.3 0,9.6 9.3,9.6" fill="#2b5f93"/><path d="M6 6.6 C10 1.6 18.5 2.4 19.8 9.2 C20.6 13.6 15.5 18.2 10.4 23.6" stroke="#2b5f93" stroke-width="2.2" fill="none" /></g>
<line x1="1808.80" y1="24.00" x2="1826.80" y2="24.00" stroke="#fff" stroke-width="1.5" />
<rect x="1881.50" y="15.10" width="16.60" height="16.30" stroke="#fff" stroke-width="1.5" fill="none" />
<line x1="1953.20" y1="14.60" x2="1970.60" y2="31.80" stroke="#fff" stroke-width="1.5" />
<line x1="1970.60" y1="14.60" x2="1953.20" y2="31.80" stroke="#fff" stroke-width="1.5" />
<path d="M1968 74.4 L1976.1 66.2 L1984.2 74.4" stroke="#4a4a4a" stroke-width="1.6" fill="none" />
<rect x="49.60" y="121.50" width="25.20" height="28.50" stroke="#646464" stroke-width="1.5" fill="#fff" />
<path d="M54.6 123.2 V119.6 H57 C57.6 115.2 66.6 115.2 67.2 119.6 H69.6 V123.2 Z" stroke="#646464" stroke-width="1.4" fill="#fff" />
<line x1="52.60" y1="128.40" x2="59.00" y2="128.40" stroke="#646464" stroke-width="1.5" />
<line x1="52.60" y1="134.00" x2="64.60" y2="134.00" stroke="#646464" stroke-width="1.5" />
<line x1="52.60" y1="139.20" x2="64.60" y2="139.20" stroke="#646464" stroke-width="1.5" />
<path d="M62.6 157.5 C62.8 151 66.4 147.6 72.7 147.6 C79 147.6 82.6 151 82.8 157.5 Z" stroke="none" stroke-width="0" fill="#fff" />
<path d="M63.4 156.6 C63.6 150.6 67 147.6 72.7 147.6 C78.4 147.6 81.8 150.6 82.0 156.6" stroke="#646464" stroke-width="1.5" fill="none" />
<circle cx="72.70" cy="140.80" r="5.10" stroke="#646464" stroke-width="1.5" fill="#fff"/>
<path d="M164.9 117.9 H183.6 L189.6 124.6 V151.6 H164.9 Z" stroke="#646464" stroke-width="1.5" fill="#fff" />
<path d="M183.4 118.2 V124.8 H189.4" stroke="#646464" stroke-width="1.4" fill="none" />
<line x1="169.60" y1="124.80" x2="177.20" y2="124.80" stroke="#646464" stroke-width="1.5" />
<line x1="169.60" y1="131.90" x2="184.40" y2="131.90" stroke="#646464" stroke-width="1.5" />
<line x1="169.60" y1="139.10" x2="180.20" y2="139.10" stroke="#646464" stroke-width="1.5" />
<line x1="169.60" y1="146.20" x2="180.20" y2="146.20" stroke="#646464" stroke-width="1.5" />
<path d="M178.6 147.6 L180.4 142.6 L195.0 127.4 L198.4 130.6 L183.6 146.0 Z" stroke="#646464" stroke-width="1.4" fill="#fff" />
<circle cx="180.20" cy="146.40" r="1.50" stroke="none" stroke-width="0" fill="#646464"/>
<line x1="275.40" y1="137.50" x2="307.70" y2="137.50" stroke="#646464" stroke-width="1.7" />
<line x1="281.60" y1="129.00" x2="281.60" y2="143.40" stroke="#646464" stroke-width="1.5" />
<line x1="301.60" y1="129.00" x2="301.60" y2="143.40" stroke="#646464" stroke-width="1.5" />
<circle cx="281.60" cy="125.10" r="3.70" stroke="#8c8c8c" stroke-width="1.5" fill="#fff"/>
<circle cx="301.60" cy="125.10" r="3.70" stroke="#8c8c8c" stroke-width="1.5" fill="#fff"/>
<path d="M585.3 119.6 V148.4 L592.2 142.0 L597.0 152.6 L601.6 150.5 L596.8 140.2 L606.2 140.0 Z" stroke="#111" stroke-width="1.6" fill="#fff" />
<path d="M700.8 138.9 L716.9 122.8 H743.2 V132.5 L726.7 148.7 H700.8 Z" stroke="#6e6e6e" stroke-width="1.5" fill="#e2e2e2" />
<path d="M700.8 138.9 H726.7 L743.2 122.8 M726.7 138.9 V148.7" stroke="#6e6e6e" stroke-width="1.5" fill="none" />
<path d="M826.9 123.4 L832.7 117.5 H843.4 V148.7 L837.6 153.5 H826.9 Z" stroke="#6e6e6e" stroke-width="1.5" fill="#e2e2e2" />
<path d="M826.9 123.4 H837.6 L843.4 117.5 M837.6 123.4 V153.5" stroke="#6e6e6e" stroke-width="1.5" fill="none" />
<path d="M927.6 135.0 C927.6 109.6 966 108.0 968.8 137.6" stroke="#7c7c7c" stroke-width="1.5" fill="none" />
<path d="M963.6 131.6 L968.8 139.2 L973.6 131.4" stroke="#7c7c7c" stroke-width="1.8" fill="none" />
<line x1="947.80" y1="122.40" x2="947.80" y2="151.00" stroke="#7c7c7c" stroke-width="1.5" />
<path d="M942.2 144.6 L947.8 152.0 L953.4 144.6" stroke="#7c7c7c" stroke-width="1.8" fill="none" />
<path d="M1042.9 117.8 H1082.9 V130.7 H1073.9 V152.0 H1052.2 V130.7 H1042.9 Z" stroke="#b9b9b9" stroke-width="1.6" fill="#e9e9e9" />
<rect x="1047.50" y="122.60" width="3.00" height="3.00" stroke="none" stroke-width="0" fill="#b9b9b9" />
<rect x="1056.30" y="122.60" width="3.00" height="3.00" stroke="none" stroke-width="0" fill="#b9b9b9" />
<rect x="1065.40" y="122.60" width="3.00" height="3.00" stroke="none" stroke-width="0" fill="#b9b9b9" />
<rect x="1074.30" y="122.60" width="3.00" height="3.00" stroke="none" stroke-width="0" fill="#b9b9b9" />
<rect x="1056.90" y="143.90" width="3.00" height="3.00" stroke="none" stroke-width="0" fill="#b9b9b9" />
<rect x="1066.00" y="143.90" width="3.00" height="3.00" stroke="none" stroke-width="0" fill="#b9b9b9" />
<path d="M1189.4 150.2 H1171 V117.8 H1208.9 V137.6" stroke="#646464" stroke-width="1.5" fill="none" />
<line x1="1171.00" y1="123.40" x2="1208.90" y2="123.40" stroke="#646464" stroke-width="1.5" />
<path d="M1194.4 133.4 L1210.2 144.4 L1194.4 155.2 Z" stroke="#646464" stroke-width="1.5" fill="#c9c9c9" />
<path d="M1307.5 137.6 L1307.5 118.4 L1321.6 144.8 Q1323.2 148.0 1325.2 148.0 L1329.7 148.0 Q1331.7 148.0 1333.2 145.0 L1349.5 126.2 V137.6" stroke="#5c5c5c" stroke-width="1.35" fill="#e6e6e6" stroke-linejoin="round"/><line x1="1305.20" y1="137.60" x2="1351.10" y2="137.60" stroke="#a4a4a4" stroke-width="1.3" />
<rect x="1426.40" y="116.00" width="32.40" height="35.80" stroke="#646464" stroke-width="1.6" fill="#fff" />
<line x1="1426.40" y1="122.60" x2="1458.80" y2="122.60" stroke="#646464" stroke-width="1.5" />
<line x1="1437.10" y1="122.60" x2="1437.10" y2="151.80" stroke="#bdbdbd" stroke-width="1.4" />
<line x1="1448.00" y1="122.60" x2="1448.00" y2="151.80" stroke="#bdbdbd" stroke-width="1.4" />
<line x1="1426.40" y1="129.60" x2="1458.80" y2="129.60" stroke="#bdbdbd" stroke-width="1.4" />
<line x1="1426.40" y1="137.00" x2="1458.80" y2="137.00" stroke="#bdbdbd" stroke-width="1.4" />
<line x1="1426.40" y1="144.40" x2="1458.80" y2="144.40" stroke="#bdbdbd" stroke-width="1.4" />
<rect x="1541.40" y="116.00" width="24.00" height="9.00" stroke="#6e6e6e" stroke-width="1.4" fill="#fff" />
<rect x="1530.90" y="124.60" width="45.00" height="23.40" stroke="#646464" stroke-width="1.6" fill="#fff" />
<rect x="1541.40" y="137.60" width="24.00" height="14.40" stroke="#646464" stroke-width="1.4" fill="#fff" />
<line x1="1549.00" y1="133.60" x2="1558.60" y2="133.60" stroke="#646464" stroke-width="1.3" stroke-dasharray="2.4 1.2"/>
<line x1="1539.20" y1="137.30" x2="1567.60" y2="137.30" stroke="#646464" stroke-width="1.5" />
<line x1="1545.60" y1="141.20" x2="1561.40" y2="141.20" stroke="#646464" stroke-width="1.3" />
<line x1="1545.60" y1="144.60" x2="1561.40" y2="144.60" stroke="#646464" stroke-width="1.3" />
<line x1="1545.60" y1="148.00" x2="1561.40" y2="148.00" stroke="#646464" stroke-width="1.3" />
<path d="M1606.6 134.8 L1614.4 142.2 L1622.2 134.8" stroke="#444" stroke-width="1.6" fill="none" />
<rect x="1685.60" y="119.80" width="38.00" height="27.00" stroke="#646464" stroke-width="1.6" fill="#fff" />
<line x1="1704.40" y1="146.80" x2="1704.40" y2="150.20" stroke="#646464" stroke-width="1.6" />
<line x1="1697.30" y1="150.20" x2="1711.30" y2="150.20" stroke="#646464" stroke-width="1.6" />
<path d="M1692.6 127.8 L1695.4 130.4 L1700.2 124.6" stroke="#444" stroke-width="1.4" fill="none" />
<path d="M1692.6 136.8 L1695.4 139.4 L1700.2 133.6" stroke="#444" stroke-width="1.4" fill="none" />
<line x1="1705.40" y1="128.40" x2="1718.40" y2="128.40" stroke="#646464" stroke-width="1.4" />
<line x1="1705.40" y1="137.40" x2="1718.40" y2="137.40" stroke="#646464" stroke-width="1.4" />
<rect x="1798.80" y="122.40" width="31.20" height="21.60" stroke="#646464" stroke-width="1.5" fill="#fff" />
<line x1="1798.10" y1="121.80" x2="1830.70" y2="121.80" stroke="#646464" stroke-width="2.6" />
<rect x="1806.40" y="131.40" width="30.60" height="22.20" stroke="#646464" stroke-width="1.5" fill="#fff" />
<line x1="1805.70" y1="130.80" x2="1837.70" y2="130.80" stroke="#646464" stroke-width="2.6" />
<polygon points="1926.69,120.75 1927.72,115.58 1934.28,115.58 1935.31,120.75 1937.81,121.79 1942.20,118.86 1946.84,123.50 1943.91,127.89 1944.95,130.39 1950.12,131.42 1950.12,137.98 1944.95,139.01 1943.91,141.51 1946.84,145.90 1942.20,150.54 1937.81,147.61 1935.31,148.65 1934.28,153.82 1927.72,153.82 1926.69,148.65 1924.19,147.61 1919.80,150.54 1915.16,145.90 1918.09,141.51 1917.05,139.01 1911.88,137.98 1911.88,131.42 1917.05,130.39 1918.09,127.89 1915.16,123.50 1919.80,118.86 1924.19,121.79" stroke="#6a6a6a" stroke-width="1.5" fill="#fafafa" stroke-linejoin="round"/>
<circle cx="1931.00" cy="134.70" r="8.60" stroke="#6a6a6a" stroke-width="1.5" fill="#f5f5f5"/>
<path d="M191.3 292.5 L191.3 275.3 L203.0 298.6 Q204.6 301.8 206.6 301.8 L209.2 301.8 Q211.2 301.8 212.8 298.8 L226.0 281.4 V292.5" stroke="#5c5c5c" stroke-width="1.35" fill="#e6e6e6" stroke-linejoin="round"/><line x1="189.40" y1="292.50" x2="228.30" y2="292.50" stroke="#a4a4a4" stroke-width="1.3" />
<path d="M320.8 275.9 H328.6 V284.3 H347.1 V275.9 H355.8 V298.3 H350.6 V305.1 H326 V298.3 H320.8 Z" stroke="#666" stroke-width="1.5" fill="#e6e6e6" />
<line x1="318.80" y1="292.50" x2="357.80" y2="292.50" stroke="#9c9c9c" stroke-width="1.2" />
<path d="M321.4 281.0 L332.6 297.4 Q333.8 299.2 335.6 299.2 L338.8 299.2 Q340.4 299.2 341.6 297.6 L355.4 280.6" stroke="#6a6a6a" stroke-width="1.25" fill="none" stroke-linejoin="round"/>
<rect x="430.60" y="279.30" width="35.40" height="26.00" stroke="#606060" stroke-width="1.5" fill="#e6e6e6" />
<line x1="428.50" y1="292.30" x2="468.00" y2="292.30" stroke="#a8a8a8" stroke-width="1.2" />
<line x1="431.40" y1="283.20" x2="466.00" y2="300.70" stroke="#5a5a5a" stroke-width="1.5" />
<line x1="547.90" y1="278.80" x2="547.90" y2="305.60" stroke="#a6a6a6" stroke-width="1.5" />
<line x1="545.80" y1="292.30" x2="584.80" y2="292.30" stroke="#b2b2b2" stroke-width="1.3" />
<path d="M548.6 292.3 C560 292.4 571 293.6 582.3 303.2" stroke="#4e4e4e" stroke-width="1.5" fill="none" />
<rect x="660.40" y="283.10" width="39.30" height="16.60" stroke="#606060" stroke-width="1.6" fill="#f8f8f8" />
<rect x="667.90" y="287.90" width="3.00" height="3.00" stroke="none" stroke-width="0" fill="#333" />
<rect x="678.60" y="287.90" width="3.00" height="3.00" stroke="none" stroke-width="0" fill="#333" />
<rect x="689.20" y="287.90" width="3.00" height="3.00" stroke="none" stroke-width="0" fill="#333" />
<line x1="666.20" y1="293.90" x2="694.60" y2="293.90" stroke="#333" stroke-width="1.6" />
<path d="M82.90 431.90 L89.30 438.50 L95.70 431.90" stroke="#303030" stroke-width="2.6" fill="none" />
<path d="M82.90 680.50 L89.30 687.10 L95.70 680.50" stroke="#303030" stroke-width="2.6" fill="none" />
<path d="M82.90 902.10 L89.30 908.70 L95.70 902.10" stroke="#303030" stroke-width="2.6" fill="none" />
<path d="M82.90 1583.70 L89.30 1590.30 L95.70 1583.70" stroke="#303030" stroke-width="2.6" fill="none" />
<circle cx="115.80" cy="490.10" r="11.00" stroke="#d2d2df" stroke-width="1.7" fill="#f6f6fa"/>
<circle cx="115.80" cy="490.10" r="6.20" stroke="none" stroke-width="0" fill="#161616"/>
<circle cx="115.80" cy="535.50" r="11.00" stroke="#d8d8e2" stroke-width="1.6" fill="#efeff3"/>
<circle cx="115.80" cy="591.20" r="11.00" stroke="#d8d8e2" stroke-width="1.6" fill="#efeff3"/>
<polygon points="451.80,532.80 462.40,532.80 457.10,539.20" fill="#c0c2d2"/>
<polygon points="599.50,532.80 610.10,532.80 604.80,539.20" fill="#c0c2d2"/>
<polygon points="451.80,586.60 462.40,586.60 457.10,593.00" fill="#c0c2d2"/>
<path d="M512.4 584.4 L502.8 594.0 L512.4 603.6" stroke="#c8c8d4" stroke-width="1.6" fill="none" />
<path d="M544.2 584.4 L553.8 594.0 L544.2 603.6" stroke="#c8c8d4" stroke-width="1.6" fill="none" />
<rect x="105.15" y="726.15" width="22.00" height="23.00" stroke="#dbdbe6" stroke-width="1.8" fill="#f2f2f6" /><path d="M108.85 738.45 L115.05 743.35 L123.65 732.95" stroke="#d0d0d9" stroke-width="2.3" fill="none" />
<rect x="105.15" y="767.85" width="22.00" height="23.00" stroke="#dbdbe6" stroke-width="1.8" fill="#f2f2f6" /><path d="M108.85 780.15 L115.05 785.05 L123.65 774.65" stroke="#d0d0d9" stroke-width="2.3" fill="none" />
<rect x="105.15" y="809.45" width="22.00" height="23.00" stroke="#dbdbe6" stroke-width="1.8" fill="#f2f2f6" /><path d="M108.85 821.75 L115.05 826.65 L123.65 816.25" stroke="#d0d0d9" stroke-width="2.3" fill="none" />
<rect x="105.15" y="947.75" width="22.00" height="23.00" stroke="#cdcddb" stroke-width="1.4" fill="#ececf2" /><path d="M108.85 960.05 L115.05 964.95 L123.65 954.55" stroke="#262626" stroke-width="2.3" fill="none" />
<rect x="105.15" y="989.05" width="22.00" height="23.00" stroke="#dbdbe6" stroke-width="1.8" fill="#f2f2f6" />
<rect x="105.15" y="1634.90" width="22.00" height="23.00" stroke="#cdcddb" stroke-width="1.4" fill="#ececf2" />
<rect x="406.35" y="1634.90" width="22.00" height="23.00" stroke="#cdcddb" stroke-width="1.4" fill="#ececf2" /><path d="M410.05 1647.20 L416.25 1652.10 L424.85 1641.70" stroke="#262626" stroke-width="2.3" fill="none" />
<rect x="105.15" y="1681.60" width="22.00" height="23.00" stroke="#cdcddb" stroke-width="1.4" fill="#ececf2" /><path d="M108.85 1693.90 L115.05 1698.80 L123.65 1688.40" stroke="#262626" stroke-width="2.3" fill="none" />
<rect x="406.35" y="1681.60" width="22.00" height="23.00" stroke="#cdcddb" stroke-width="1.4" fill="#ececf2" /><path d="M410.05 1693.90 L416.25 1698.80 L424.85 1688.40" stroke="#262626" stroke-width="2.3" fill="none" />
<line x1="18.20" y1="1643.40" x2="34.00" y2="1643.40" stroke="#5c5c5c" stroke-width="1.5" />
<line x1="18.20" y1="1649.00" x2="34.00" y2="1649.00" stroke="#5c5c5c" stroke-width="1.5" />
<line x1="18.20" y1="1654.50" x2="34.00" y2="1654.50" stroke="#5c5c5c" stroke-width="1.5" />
<line x1="18.20" y1="1660.10" x2="34.00" y2="1660.10" stroke="#5c5c5c" stroke-width="1.5" />
<line x1="18.20" y1="1665.50" x2="34.00" y2="1665.50" stroke="#5c5c5c" stroke-width="1.5" />
<line x1="43.90" y1="1643.00" x2="43.90" y2="1665.60" stroke="#5c5c5c" stroke-width="1.5" />
<path d="M37.9 1659.5 L43.9 1665.9 L49.9 1659.5" stroke="#5c5c5c" stroke-width="1.5" fill="none" />
<line x1="16.30" y1="1701.10" x2="32.40" y2="1701.10" stroke="#5c5c5c" stroke-width="1.5" />
<line x1="16.30" y1="1707.10" x2="32.40" y2="1707.10" stroke="#5c5c5c" stroke-width="1.5" />
<line x1="42.30" y1="1700.80" x2="42.30" y2="1723.60" stroke="#5c5c5c" stroke-width="1.5" />
<path d="M36.3 1706.9 L42.3 1700.5 L48.3 1706.9" stroke="#5c5c5c" stroke-width="1.5" fill="none" />
<line x1="18.20" y1="1759.00" x2="46.80" y2="1759.00" stroke="#5c5c5c" stroke-width="1.5" />
<line x1="18.20" y1="1766.30" x2="46.80" y2="1766.30" stroke="#5c5c5c" stroke-width="1.5" />
<line x1="18.20" y1="1773.50" x2="46.80" y2="1773.50" stroke="#5c5c5c" stroke-width="1.5" />
<polygon points="1572.00,1822.50 1581.40,1822.50 1576.70,1828.30" fill="#747474"/>
<polygon points="1967.90,1819.80 1977.30,1819.80 1972.60,1825.60" fill="#747474"/>
<polygon points="1929.50,232.30 1940.30,232.30 1934.90,238.50" fill="#111"/>
<line x1="1961.20" y1="229.60" x2="1975.80" y2="243.80" stroke="#222" stroke-width="1.7" />
<line x1="1975.80" y1="229.60" x2="1961.20" y2="243.80" stroke="#222" stroke-width="1.7" />
<line x1="1946.60" y1="288.60" x2="1937.40" y2="279.60" stroke="#555" stroke-width="1.3" /><path d="M1943.80 279.60 L1937.40 279.60 L1937.40 286.00" stroke="#555" stroke-width="1.5" fill="none" />
<line x1="1950.80" y1="288.60" x2="1960.20" y2="279.60" stroke="#555" stroke-width="1.3" /><path d="M1953.80 279.60 L1960.20 279.60 L1960.20 286.00" stroke="#555" stroke-width="1.5" fill="none" />
<line x1="1946.60" y1="293.20" x2="1937.40" y2="302.40" stroke="#555" stroke-width="1.3" /><path d="M1943.80 302.40 L1937.40 302.40 L1937.40 296.00" stroke="#555" stroke-width="1.5" fill="none" />
<circle cx="1956.60" cy="298.40" r="5.60" stroke="#555" stroke-width="1.5" fill="#f2f2f2"/><line x1="1960.89" y1="302.00" x2="1966.09" y2="306.60" stroke="#444" stroke-width="2.4" />
<rect x="1935.60" y="331.90" width="25.00" height="24.70" stroke="#7a7a7a" stroke-width="1.4" fill="#fff" />
<circle cx="1956.60" cy="350.40" r="5.60" stroke="#555" stroke-width="1.5" fill="#f2f2f2"/><line x1="1960.89" y1="354.00" x2="1966.09" y2="358.60" stroke="#444" stroke-width="2.4" />
<line x1="1933.60" y1="388.00" x2="1945.20" y2="388.00" stroke="#555" stroke-width="1.4" />
<line x1="1939.40" y1="382.20" x2="1939.40" y2="393.80" stroke="#555" stroke-width="1.4" />
<circle cx="1952.60" cy="399.20" r="5.60" stroke="#555" stroke-width="1.5" fill="#f2f2f2"/><line x1="1956.89" y1="402.80" x2="1962.09" y2="407.40" stroke="#444" stroke-width="2.4" />
<line x1="1933.60" y1="439.60" x2="1945.20" y2="439.60" stroke="#555" stroke-width="1.4" />
<circle cx="1952.60" cy="451.40" r="5.60" stroke="#555" stroke-width="1.5" fill="#f2f2f2"/><line x1="1956.89" y1="455.00" x2="1962.09" y2="459.60" stroke="#444" stroke-width="2.4" />
<path d="M1941.3 507.0 V491.8 C1941.3 488.6 1946.7 488.6 1946.7 491.8 V488.6 C1946.7 485.4 1952.5 485.4 1952.5 488.6 V489.4 C1952.5 486.4 1958.4 486.4 1958.4 489.6 V492.6 C1958.4 489.8 1963.6 489.8 1963.6 492.8 V508 C1963.6 516 1958.6 519.6 1951.6 519.6 C1945.6 519.6 1942.4 516.4 1939.4 511.6 L1935.4 505.4 C1933.8 502.6 1937.4 500.6 1939.4 503.2 L1941.3 505.6" stroke="#555" stroke-width="1.5" fill="#fff" />
<path d="M1946.7 491.8 V501.0 M1952.5 489.4 V501.0 M1958.4 492.6 V501.0" stroke="#8a8a8a" stroke-width="1.3" fill="none" />
</svg>
<span class="t" style="left:706.72px;top:25.92px;font-size:21.60px;transform:scaleX(0.9707);color:#0b1a2b;">spBeam - Example 1 - PCA Notes on ACI 318-Example 8-2.slbx</span>
<span class="t" style="left:25.56px;top:73.02px;font-size:21.60px;transform:scaleX(1.0084);color:#ffffff;">File</span>
<span class="t" style="left:110.72px;top:73.02px;font-size:21.60px;transform:scaleX(1.0314);color:#1c1c1c;">Home</span>
<span class="t" style="left:31.76px;top:179.12px;font-size:21.60px;transform:scaleX(1.0062);color:#1c1c1c;">Project</span>
<span class="t" style="left:147.16px;top:179.12px;font-size:21.60px;transform:scaleX(1.0087);color:#1c1c1c;">Define</span>
<span class="t" style="left:265.65px;top:179.12px;font-size:21.60px;transform:scaleX(0.9761);color:#1c1c1c;">Grids</span>
<span class="t" style="left:564.15px;top:179.12px;font-size:21.60px;transform:scaleX(0.9734);color:#1c1c1c;">Select</span>
<span class="t" style="left:692.09px;top:179.12px;font-size:21.60px;transform:scaleX(0.9410);color:#1c1c1c;">Spans</span>
<span class="t" style="left:790.92px;top:179.12px;font-size:21.60px;transform:scaleX(1.0103);color:#1c1c1c;">Supports</span>
<span class="t" style="left:918.92px;top:179.12px;font-size:21.60px;transform:scaleX(0.9738);color:#1c1c1c;">Loads</span>
<span class="t" style="left:1028.98px;top:179.12px;font-size:21.60px;transform:scaleX(0.9356);color:#a6a6a6;">Rebars</span>
<span class="t" style="left:1163.36px;top:179.12px;font-size:21.60px;transform:scaleX(0.9710);color:#1c1c1c;">Solve</span>
<span class="t" style="left:1295.37px;top:179.12px;font-size:21.60px;transform:scaleX(0.9446);color:#1c1c1c;">Results</span>
<span class="t" style="left:1412.90px;top:179.12px;font-size:21.60px;transform:scaleX(0.9374);color:#1c1c1c;">Tables</span>
<span class="t" style="left:1511.90px;top:179.12px;font-size:21.60px;transform:scaleX(0.9845);color:#1c1c1c;">Reporter</span>
<span class="t" style="left:1669.00px;top:179.12px;font-size:21.60px;transform:scaleX(0.9867);color:#1c1c1c;">Display</span>
<span class="t" style="left:1774.65px;top:179.12px;font-size:21.60px;transform:scaleX(0.9259);color:#1c1c1c;">Viewports</span>
<span class="t" style="left:1890.42px;top:179.12px;font-size:21.60px;transform:scaleX(1.0091);color:#1c1c1c;">Settings</span>
<span class="t" style="left:75.04px;top:232.87px;font-size:22.60px;transform:scaleX(0.8654);color:#2b2b2b;-webkit-text-stroke:0.55px #2b2b2b;">RESULTS</span>
<span class="t" style="left:159.32px;top:334.22px;font-size:21.60px;transform:scaleX(0.9692);color:#1c1c1c;">Int. Forces</span>
<span class="t" style="left:297.58px;top:334.22px;font-size:21.60px;transform:scaleX(1.0552);color:#1c1c1c;">Moment</span>
<span class="t" style="left:420.39px;top:334.22px;font-size:21.60px;transform:scaleX(0.9410);color:#1c1c1c;">Shear</span>
<span class="t" style="left:514.90px;top:334.22px;font-size:21.60px;transform:scaleX(1.0394);color:#1c1c1c;">Deflection</span>
<span class="t" style="left:653.91px;top:334.22px;font-size:21.60px;transform:scaleX(0.9762);color:#1c1c1c;">Reinf.</span>
<span class="t" style="left:108.75px;top:436.56px;font-size:23.50px;transform:scaleX(0.9972);color:#1d77db;-webkit-text-stroke:0.3px #1d77db;">Span</span>
<span class="t" style="left:108.72px;top:685.06px;font-size:23.50px;transform:scaleX(1.0213);color:#1d77db;-webkit-text-stroke:0.3px #1d77db;">Strips</span>
<span class="t" style="left:108.75px;top:906.46px;font-size:23.50px;transform:scaleX(0.9946);color:#1d77db;-webkit-text-stroke:0.3px #1d77db;">Show</span>
<span class="t" style="left:108.73px;top:1587.63px;font-size:23.00px;transform:scaleX(0.9611);color:#1d77db;-webkit-text-stroke:0.3px #1d77db;">DISPLAY OPTIONS</span>
<span class="t" style="left:141.20px;top:490.72px;font-size:21.60px;transform:scaleX(1.0033);color:#1c1c1c;">All</span>
<span class="t" style="left:139.20px;top:537.42px;font-size:21.60px;transform:scaleX(1.0286);color:#1c1c1c;">In range from</span>
<span class="t" style="left:140.25px;top:591.52px;font-size:21.60px;transform:scaleX(0.9776);color:#1c1c1c;">Single</span>
<span class="t" style="left:379.98px;top:537.42px;font-size:21.60px;transform:scaleX(1.0000);color:#cecece;">1</span>
<span class="t" style="left:486.03px;top:537.42px;font-size:21.60px;transform:scaleX(1.1314);color:#c6c6c6;">to</span>
<span class="t" style="left:527.29px;top:537.42px;font-size:21.60px;transform:scaleX(1.0000);color:#cecece;">3</span>
<span class="t" style="left:379.98px;top:591.12px;font-size:21.60px;transform:scaleX(1.0000);color:#cecece;">1</span>
<span class="t" style="left:139.92px;top:738.92px;font-size:21.60px;transform:scaleX(0.9729);color:#c9c9cb;">Beam Strip</span>
<span class="t" style="left:139.83px;top:780.32px;font-size:21.60px;transform:scaleX(1.0264);color:#c9c9cb;">Middle Strip</span>
<span class="t" style="left:139.92px;top:821.82px;font-size:21.60px;transform:scaleX(0.9967);color:#c9c9cb;">Column Strip</span>
<span class="t" style="left:140.57px;top:961.22px;font-size:21.60px;transform:scaleX(0.9686);color:#1c1c1c;">Zones</span>
<span class="t" style="left:140.10px;top:1002.52px;font-size:21.60px;transform:scaleX(1.0184);color:#c9c9cb;">Combined M-V-T</span>
<span class="t" style="left:139.48px;top:1648.62px;font-size:21.60px;transform:scaleX(0.9939);color:#1c1c1c;">Diagram Grids</span>
<span class="t" style="left:440.40px;top:1648.62px;font-size:21.60px;transform:scaleX(0.9866);color:#1c1c1c;">Fill Diagrams</span>
<span class="t" style="left:139.49px;top:1694.82px;font-size:21.60px;transform:scaleX(0.9876);color:#1c1c1c;">Legend</span>
<span class="t" style="left:442.05px;top:1694.82px;font-size:21.60px;transform:scaleX(0.9464);color:#1c1c1c;">Values</span>
<span class="t" style="left:404.12px;top:1747.12px;font-size:21.60px;transform:scaleX(0.9096);color:#cfcfcf;">Scale</span>
<span class="t" style="left:596.59px;top:1747.12px;font-size:21.60px;transform:scaleX(0.9314);color:#d0d0d0;">1.0</span>
<span class="t" style="left:39.70px;top:1824.12px;font-size:21.60px;transform:scaleX(0.9655);color:#1c1c1c;">ACI 318-14</span>
<span class="t" style="left:290.53px;top:1824.12px;font-size:21.60px;transform:scaleX(0.9990);color:#1c1c1c;">One-Way/Beam</span>
<span class="t" style="left:542.26px;top:1824.12px;font-size:21.60px;transform:scaleX(1.0085);color:#1c1c1c;">Design</span>
<span class="t" style="left:1441.48px;top:1824.12px;font-size:21.60px;transform:scaleX(1.0043);color:#1c1c1c;">x = 10.40 ft</span>
<span class="t" style="left:1602.59px;top:1824.12px;font-size:21.60px;transform:scaleX(1.0500);color:#1c1c1c;">Mu = -280.3 kip-ft</span>
<span class="t" style="left:1811.45px;top:1824.12px;font-size:21.60px;transform:scaleX(1.0189);color:#1c1c1c;">Units:</span>
<span class="t" style="left:1881.14px;top:1824.12px;font-size:21.60px;transform:scaleX(0.9614);color:#1c1c1c;">English</span>
<span class="t" style="left:749.83px;top:236.72px;font-size:21.60px;transform:scaleX(1.0795);color:#1c1c1c;">Results - Moment</span>
<span class="t" style="left:760.13px;top:291.63px;font-size:23.00px;transform:scaleX(1.0160);color:#1c1c1c;">Legend:</span>
<span class="t" style="left:850.39px;top:323.13px;font-size:23.00px;transform:scaleX(0.9830);color:#1c1c1c;">Envelope Curve</span>
<span class="t" style="left:851.07px;top:354.93px;font-size:23.00px;transform:scaleX(0.9834);color:#1c1c1c;">Capacity Curve</span>
<span class="t" style="left:851.15px;top:387.33px;font-size:23.00px;transform:scaleX(1.0177);color:#1c1c1c;">Support Centerline</span>
<span class="t" style="left:850.36px;top:419.53px;font-size:23.00px;transform:scaleX(0.9976);color:#1c1c1c;">Face of Support</span>
<span class="t" style="left:851.51px;top:451.93px;font-size:23.00px;transform:scaleX(1.0038);color:#1c1c1c;">Zone Limits</span>
</div></body></html>
